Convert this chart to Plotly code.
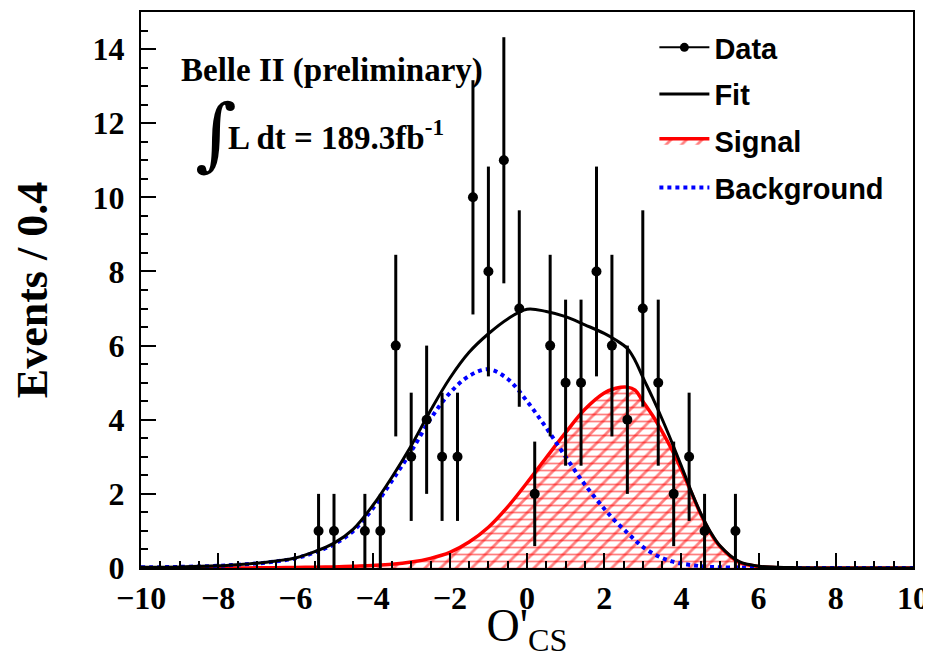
import plotly.graph_objects as go

# ---------------- data ----------------
data_x = [-5.4, -5.0, -4.2, -3.8, -3.4, -3.0, -2.6, -2.2, -1.8, -1.4, -1.0, -0.6, -0.2,
          0.2, 0.6, 1.0, 1.4, 1.8, 2.2, 2.6, 3.0, 3.4, 3.8, 4.2, 4.6, 5.4]
data_y = [1, 1, 1, 1, 6, 3, 4, 3, 3, 10, 8, 11, 7,
          2, 6, 5, 5, 8, 6, 4, 7, 5, 2, 3, 1, 1]
data_err = [1.0, 1.0, 1.0, 1.0, 2.45, 1.73, 2.0, 1.73, 1.73, 3.16, 2.83, 3.32, 2.65,
            1.41, 2.45, 2.24, 2.24, 2.83, 2.45, 2.0, 2.65, 2.24, 1.41, 1.73, 1.0, 1.0]

curve_x = [-10, -9, -8, -7.5, -7, -6.5, -6, -5.5, -5, -4.5, -4, -3.5, -3, -2.5, -2, -1.5,
           -1, -0.5, 0, 0.5, 1, 1.5, 2, 2.3, 2.6, 2.8, 3, 3.25, 3.5, 3.75, 4, 4.25, 4.5,
           4.75, 5, 5.5, 6, 6.5, 7, 8, 9, 10]
bkg_y = [0.02, 0.03, 0.06, 0.09, 0.12, 0.18, 0.26, 0.42, 0.64, 1.0, 1.6, 2.35, 3.15, 4.02,
         4.72, 5.18, 5.36, 5.1, 4.5, 3.78, 3.0, 2.25, 1.6, 1.25, 0.95, 0.75, 0.57, 0.4,
         0.27, 0.18, 0.12, 0.08, 0.05, 0.03, 0.02, 0.01, 0.005, 0.0, 0.0, 0.0, 0.0, 0.0]
sig_y = [0.0, 0.0, 0.0, 0.0, 0.005, 0.01, 0.015, 0.02, 0.03, 0.05, 0.07, 0.1, 0.16, 0.26,
         0.42, 0.7, 1.1, 1.65, 2.3, 2.98, 3.65, 4.28, 4.72, 4.85, 4.88, 4.8, 4.5, 4.12,
         3.68, 3.2, 2.65, 2.05, 1.45, 0.95, 0.58, 0.15, 0.04, 0.01, 0.0, 0.0, 0.0, 0.0]
fit_y = [0.02, 0.03, 0.06, 0.09, 0.13, 0.19, 0.27, 0.44, 0.67, 1.05, 1.68, 2.45, 3.3, 4.25,
         5.12, 5.82, 6.32, 6.72, 6.98, 6.92, 6.78, 6.56, 6.33, 6.15, 5.92, 5.6, 5.15, 4.6,
         4.02, 3.4, 2.75, 2.08, 1.48, 0.98, 0.6, 0.17, 0.05, 0.02, 0.01, 0.0, 0.0, 0.0]

x_ticks = [-10, -8, -6, -4, -2, 0, 2, 4, 6, 8, 10]
y_ticks = [0, 2, 4, 6, 8, 10, 12, 14]

SERIF = "Liberation Serif"
SANS = "Liberation Sans"
SM = 1.0

fig = go.Figure()

# Signal: hatched (diagonal + horizontal)
fig.add_trace(go.Scatter(
    x=curve_x, y=sig_y, mode="lines", line=dict(width=0, shape="spline", smoothing=SM),
    fill="tozeroy", fillcolor="rgba(0,0,0,0)",
    fillpattern=dict(shape="-", fgcolor="red", bgcolor="rgba(0,0,0,0)", size=7, solidity=0.25),
    showlegend=False, hoverinfo="skip"))
fig.add_trace(go.Scatter(
    x=curve_x, y=sig_y, mode="lines", name="Signal",
    line=dict(color="red", width=3.5, shape="spline", smoothing=SM),
    fill="tozeroy", fillcolor="rgba(0,0,0,0)",
    fillpattern=dict(shape="/", fgcolor="red", bgcolor="rgba(0,0,0,0)", size=11, solidity=0.25),
    legendgroup="sig", legendrank=3))

# Background
fig.add_trace(go.Scatter(
    x=curve_x, y=bkg_y, mode="lines", name="Background",
    line=dict(color="blue", width=4, dash="dot", shape="spline", smoothing=SM),
    legendgroup="bkg", legendrank=4))

# Fit
fig.add_trace(go.Scatter(
    x=curve_x, y=fit_y, mode="lines", name="Fit",
    line=dict(color="black", width=3, shape="spline", smoothing=SM),
    legendgroup="fit", legendrank=2))

# Data
fig.add_trace(go.Scatter(
    x=data_x, y=data_y, mode="markers", name="Data",
    marker=dict(color="black", size=10),
    error_y=dict(type="data", array=data_err, color="black", thickness=3, width=0),
    showlegend=False))
# legend proxy for Data (line + dot)
fig.add_trace(go.Scatter(
    x=[None], y=[None], mode="lines+markers", name="Data",
    line=dict(color="black", width=2), marker=dict(color="black", size=9),
    legendgroup="data", legendrank=1))

axis_common = dict(
    showgrid=False, zeroline=False, showline=True, linecolor="black", linewidth=2,
    mirror=True, ticks="inside", tickcolor="black", tickwidth=1.5, ticklen=15,
    tickfont=dict(family=SERIF, size=32, color="black", weight="bold"),
    ticklabeloverflow="allow",
)

fig.update_xaxes(
    range=[-10, 10], tickvals=x_ticks,
    ticktext=[("\u2212" + str(-v)) if v < 0 else str(v) for v in x_ticks],
    minor=dict(dtick=0.5, ticks="inside", ticklen=7, tickcolor="black", tickwidth=1.5),
    title=dict(text="O'<sub>CS</sub>", font=dict(family=SERIF, size=46, color="black"), standoff=6),
    ticklabelstandoff=1,
    **axis_common)
fig.update_yaxes(
    range=[0, 15], tickvals=y_ticks,
    minor=dict(dtick=0.5, ticks="inside", ticklen=7, tickcolor="black", tickwidth=1.5),
    title=dict(text="Events / 0.4", font=dict(family=SERIF, size=44, color="black", weight="bold"), standoff=31),
    ticklabelstandoff=8,
    **axis_common)

fig.add_annotation(text="Belle II (preliminary)", xref="paper", yref="paper",
                   x=0.049, y=0.894, xanchor="left", yanchor="middle", showarrow=False,
                   font=dict(family=SERIF, size=33, color="black", weight="bold"))
fig.add_annotation(text="\u222B", xref="paper", yref="paper",
                   x=0.067, y=0.782, xanchor="left", yanchor="middle", showarrow=False,
                   font=dict(family="DejaVu Serif", size=80, color="black"))
fig.add_annotation(text="L dt = 189.3fb<sup>-1</sup>", xref="paper", yref="paper",
                   x=0.11, y=0.778, xanchor="left", yanchor="middle", showarrow=False,
                   font=dict(family=SERIF, size=33, color="black", weight="bold"))

fig.update_layout(
    width=923, height=650,
    margin=dict(l=133, r=18, t=2, b=90),
    plot_bgcolor="white", paper_bgcolor="white",
    legend=dict(x=0.665, y=0.982, xanchor="left", yanchor="top",
                font=dict(family=SANS, size=29, color="black", weight="bold"),
                bgcolor="rgba(0,0,0,0)", tracegroupgap=6, traceorder="grouped",
                itemwidth=50),
)

fig.write_html("out.html")
